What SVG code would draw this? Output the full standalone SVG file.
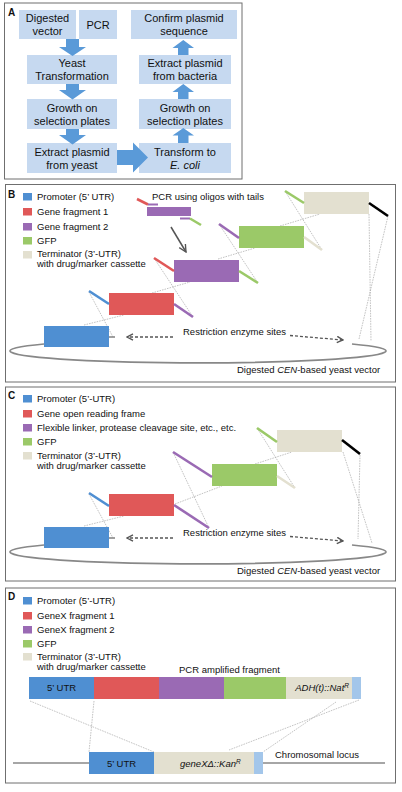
<svg xmlns="http://www.w3.org/2000/svg" width="402" height="792" viewBox="0 0 402 792">
<defs>
<style>
.t{font-family:"Liberation Sans",Arial,sans-serif;fill:#111}
.a{font-size:11px;text-anchor:middle}
.l{font-size:9.5px}
.lab{font-size:10px;font-weight:bold}
.panel{fill:#fff;stroke:#6f6f6f;stroke-width:1}
.box{fill:#c6d9f0}
.arr{fill:#5a9ad8}
.blue{fill:#4f8fd2}.red{fill:#e05858}.pur{fill:#9a6ab4}.grn{fill:#9bc968}.bei{fill:#e3e0d0}.lb{fill:#a3c6ea}
.tail{stroke-width:2.6;fill:none}
.thin{stroke:#9a9a9a;stroke-width:0.6;stroke-dasharray:1.6 1;fill:none}
.vec{stroke:#888;stroke-width:1.6;fill:none}
.dash{stroke:#555;stroke-width:1.3;stroke-dasharray:3 2;fill:none}
</style>
<marker id="chev" viewBox="0 0 8 8" refX="7" refY="4" markerWidth="8" markerHeight="8" markerUnits="userSpaceOnUse" orient="auto">
<path d="M1,0.8 L7,4 L1,7.2" fill="none" stroke="#555" stroke-width="1.4"/>
</marker>
<marker id="chev2" viewBox="0 0 10 10" refX="9" refY="5" markerWidth="9" markerHeight="9" markerUnits="userSpaceOnUse" orient="auto">
<path d="M1,1 L9,5 L1,9" fill="none" stroke="#555" stroke-width="1.5"/>
</marker>
</defs>

<!-- Panel A -->
<g id="panelA">
<rect class="panel" x="4.5" y="3" width="237.5" height="176"/>
<text class="t lab" x="8" y="16">A</text>
<g id="a-digested"><rect class="box" x="19" y="10" width="57" height="29"/><text class="t a" x="47.5" y="22">Digested</text><text class="t a" x="47.5" y="35">vector</text></g>
<g id="a-pcr"><rect class="box" x="79" y="10" width="38" height="29"/><text class="t a" x="98" y="29">PCR</text></g>
<g id="a-yeast"><rect class="box" x="27" y="55" width="90" height="29"/><text class="t a" x="72" y="67">Yeast</text><text class="t a" x="72" y="80">Transformation</text></g>
<g id="a-growth1"><rect class="box" x="27" y="99" width="90" height="30"/><text class="t a" x="72" y="111.5">Growth on</text><text class="t a" x="72" y="124.5">selection plates</text></g>
<g id="a-extract1"><rect class="box" x="27" y="143" width="90" height="30"/><text class="t a" x="72" y="155.5">Extract plasmid</text><text class="t a" x="72" y="168.5">from yeast</text></g>
<g id="a-confirm"><rect class="box" x="131" y="10" width="106" height="29"/><text class="t a" x="184" y="22">Confirm plasmid</text><text class="t a" x="184" y="35">sequence</text></g>
<g id="a-extract2"><rect class="box" x="139" y="55" width="92" height="29"/><text class="t a" x="185" y="67">Extract plasmid</text><text class="t a" x="185" y="80">from bacteria</text></g>
<g id="a-growth2"><rect class="box" x="139" y="99" width="92" height="30"/><text class="t a" x="185" y="111.5">Growth on</text><text class="t a" x="185" y="124.5">selection plates</text></g>
<g id="a-transform"><rect class="box" x="139" y="143" width="92" height="30"/><text class="t a" x="185" y="155.5">Transform to</text><text class="t a" x="185" y="168.5" font-style="italic">E. coli</text></g>
<g id="a-arrows">
<path class="arr" d="M66,39 H79 V47 H86 L72.5,56 L59,47 H66 Z"/>
<path class="arr" d="M66,84 H79 V90 H86 L72.5,99.5 L59,90 H66 Z"/>
<path class="arr" d="M66,129 H79 V135 H86 L72.5,144.5 L59,135 H66 Z"/>
<path class="arr" d="M117,150 H133 V142.5 L148,157.5 L133,172.5 V165 H117 Z"/>
<path class="arr" d="M178,143 H188.5 V135.5 H194 L183.3,128 L172.5,135.5 H178 Z"/>
<path class="arr" d="M178,99 H188.5 V92 H194 L183.3,84 L172.5,92 H178 Z"/>
<path class="arr" d="M178,55 H188.5 V48 H194 L183.3,40 L172.5,48 H178 Z"/>
</g>
</g>

<!-- Panel B -->
<g id="panelB">
<rect class="panel" x="5.5" y="184.5" width="390" height="197.5"/>
<text class="t lab" x="8" y="198">B</text>
<g id="b-legend">
<rect class="blue" x="23" y="193" width="9" height="7.5"/><text class="t l" x="37" y="200">Promoter (5’ UTR)</text>
<rect class="red" x="23" y="208" width="9" height="7.5"/><text class="t l" x="37" y="215">Gene fragment 1</text>
<rect class="pur" x="23" y="223" width="9" height="7.5"/><text class="t l" x="37" y="230">Gene fragment 2</text>
<rect class="grn" x="23" y="237" width="9" height="7.5"/><text class="t l" x="37" y="244">GFP</text>
<rect class="bei" x="23" y="251" width="9" height="7.5"/><text class="t l" x="37" y="257">Terminator (3’-UTR)</text>
<text class="t l" x="37" y="267">with drug/marker cassette</text>
</g>
<g id="b-connectors">
<line class="thin" x1="89" y1="292" x2="113" y2="337"/>
<line class="thin" x1="84" y1="325" x2="124" y2="315"/>
<line class="thin" x1="154" y1="258" x2="193" y2="317"/>
<line class="thin" x1="152" y1="293" x2="190" y2="282"/>
<line class="thin" x1="219" y1="224" x2="258" y2="283"/>
<line class="thin" x1="218" y1="259" x2="255" y2="248"/>
<line class="thin" x1="285" y1="191" x2="322" y2="250"/>
<line class="thin" x1="280" y1="226" x2="320" y2="214"/>
<line class="thin" x1="369" y1="214" x2="371" y2="341"/>
<line class="thin" x1="388" y1="216" x2="359" y2="339"/>
<path class="vec" d="M44,344 A188,12 0 1 0 352,344"/>
<line x1="171" y1="227" x2="186" y2="252" stroke="#555" stroke-width="1.5" marker-end="url(#chev2)"/>
<line class="dash" x1="173" y1="337" x2="127" y2="337" marker-end="url(#chev)"/>
<line class="dash" x1="290" y1="335.5" x2="343" y2="340" marker-end="url(#chev)"/>
</g>
<g id="b-pcr">
<text class="t l" x="152" y="200">PCR using oligos with tails</text>
<rect class="pur" x="147" y="207" width="44" height="9"/>
<line class="tail" stroke="#e05858" stroke-width="2.2" x1="137" y1="199" x2="148" y2="204.5"/>
<line stroke="#9a6ab4" stroke-width="2" x1="148" y1="204.5" x2="158" y2="204.5"/>
<line stroke="#9a6ab4" stroke-width="2" x1="180" y1="218.5" x2="190" y2="218.5"/>
<line class="tail" stroke="#9bc968" stroke-width="2.2" x1="190" y1="218.5" x2="201" y2="225"/>
</g>
<g id="b-promoter"><rect class="blue" x="44" y="326" width="65" height="21"/><line stroke="#888" stroke-width="1.6" x1="109" y1="337" x2="115" y2="337"/></g>
<g id="b-frag1"><rect class="red" x="109" y="293" width="65" height="22"/><line class="tail" stroke="#4f8fd2" x1="89" y1="291" x2="109" y2="304"/><line class="tail" stroke="#9a6ab4" x1="174" y1="304" x2="193" y2="317"/></g>
<g id="b-frag2"><rect class="pur" x="174" y="260" width="65" height="22"/><line class="tail" stroke="#e05858" x1="154" y1="258" x2="174" y2="271"/><line class="tail" stroke="#9bc968" x1="239" y1="271" x2="258" y2="283"/></g>
<g id="b-gfp"><rect class="grn" x="239" y="226" width="65" height="22"/><line class="tail" stroke="#9a6ab4" x1="219" y1="224" x2="239" y2="238"/><line class="tail" stroke="#e3e0d0" x1="304" y1="237" x2="322" y2="250"/></g>
<g id="b-term"><rect class="bei" x="304" y="192" width="65" height="22"/><line class="tail" stroke="#9bc968" x1="285" y1="191" x2="304" y2="203"/><line class="tail" stroke="#000" x1="369" y1="203" x2="388" y2="216"/></g>
<text class="t l" x="183" y="335">Restriction enzyme sites</text>
<text class="t l" x="237" y="373">Digested <tspan font-style="italic">CEN</tspan>-based yeast vector</text>
</g>

<!-- Panel C -->
<g id="panelC">
<rect class="panel" x="5.5" y="387" width="390" height="194"/>
<text class="t lab" x="8" y="399">C</text>
<g id="c-legend">
<rect class="blue" x="23" y="395" width="9" height="7.5"/><text class="t l" x="37" y="402">Promoter (5’-UTR)</text>
<rect class="red" x="23" y="410" width="9" height="7.5"/><text class="t l" x="37" y="417">Gene open reading frame</text>
<rect class="pur" x="23" y="424" width="9" height="7.5"/><text class="t l" x="37" y="431">Flexible linker, protease cleavage site, etc., etc.</text>
<rect class="grn" x="23" y="438" width="9" height="7.5"/><text class="t l" x="37" y="445">GFP</text>
<rect class="bei" x="23" y="452" width="9" height="7.5"/><text class="t l" x="37" y="459">Terminator (3’-UTR)</text>
<text class="t l" x="37" y="469">with drug/marker cassette</text>
</g>
<g id="c-connectors">
<line class="thin" x1="89" y1="494" x2="113" y2="538"/>
<line class="thin" x1="84" y1="526" x2="124" y2="516"/>
<line class="thin" x1="173" y1="452" x2="209" y2="528"/>
<line class="thin" x1="175" y1="504" x2="222" y2="486"/>
<line class="thin" x1="257" y1="428" x2="295" y2="488"/>
<line class="thin" x1="255" y1="464" x2="292" y2="452"/>
<line class="thin" x1="343" y1="452" x2="372" y2="543"/>
<line class="thin" x1="360" y1="455" x2="358" y2="539"/>
<path class="vec" d="M44,545 A188,12 0 1 0 352,545"/>
<line class="dash" x1="173" y1="538" x2="127" y2="538" marker-end="url(#chev)"/>
<line class="dash" x1="290" y1="536.5" x2="343" y2="541" marker-end="url(#chev)"/>
</g>
<g id="c-promoter"><rect class="blue" x="44" y="527" width="65" height="21"/><line stroke="#888" stroke-width="1.6" x1="109" y1="538" x2="115" y2="538"/></g>
<g id="c-orf"><rect class="red" x="109" y="494" width="65" height="22"/><line class="tail" stroke="#4f8fd2" x1="89" y1="493" x2="109" y2="506"/><line class="tail" stroke="#9a6ab4" x1="174" y1="505" x2="209" y2="528"/></g>
<g id="c-gfp"><rect class="grn" x="212" y="464" width="65" height="22"/><line class="tail" stroke="#9a6ab4" x1="173" y1="452" x2="212" y2="477"/><line class="tail" stroke="#e3e0d0" x1="277" y1="476" x2="295" y2="488"/></g>
<g id="c-term"><rect class="bei" x="277" y="430" width="65" height="22"/><line class="tail" stroke="#9bc968" x1="257" y1="428" x2="277" y2="442"/><line class="tail" stroke="#000" x1="342" y1="440" x2="360" y2="454"/></g>
<text class="t l" x="183" y="536">Restriction enzyme sites</text>
<text class="t l" x="237" y="574">Digested <tspan font-style="italic">CEN</tspan>-based yeast vector</text>
</g>

<!-- Panel D -->
<g id="panelD">
<rect class="panel" x="5.5" y="588" width="390" height="195"/>
<text class="t lab" x="8" y="600">D</text>
<g id="d-legend">
<rect class="blue" x="23" y="597" width="9" height="7.5"/><text class="t l" x="37" y="604">Promoter (5’-UTR)</text>
<rect class="red" x="23" y="612" width="9" height="7.5"/><text class="t l" x="37" y="619">GeneX fragment 1</text>
<rect class="pur" x="23" y="626" width="9" height="7.5"/><text class="t l" x="37" y="633">GeneX fragment 2</text>
<rect class="grn" x="23" y="640" width="9" height="7.5"/><text class="t l" x="37" y="647">GFP</text>
<rect class="bei" x="23" y="653" width="9" height="7.5"/><text class="t l" x="37" y="660">Terminator (3’-UTR)</text>
<text class="t l" x="37" y="670">with drug/marker cassette</text>
</g>
<g id="d-connectors">
<line class="thin" x1="30" y1="701" x2="154" y2="752"/>
<line class="thin" x1="94" y1="701" x2="89" y2="752"/>
<line class="thin" x1="359" y1="700" x2="229" y2="750"/>
<line class="thin" x1="336" y1="702" x2="263" y2="752"/>
<line class="vec" x1="13" y1="763" x2="89" y2="763"/>
<line class="vec" x1="263" y1="763" x2="385" y2="763"/>
</g>
<g id="d-fragment">
<text class="t l" x="179" y="673">PCR amplified fragment</text>
<rect class="blue" x="29" y="677" width="65" height="22"/>
<rect class="red" x="94" y="677" width="65" height="22"/>
<rect class="pur" x="159" y="677" width="65" height="22"/>
<rect class="grn" x="224" y="677" width="62" height="22"/>
<rect class="bei" x="286" y="677" width="66" height="22"/>
<rect class="lb" x="352" y="677" width="9" height="22"/>
<text class="t l" x="61.5" y="691" text-anchor="middle">5’ UTR</text>
<text class="t l" x="349" y="691" text-anchor="end" font-style="italic">ADH(t)::Nat<tspan font-size="6.5" dy="-3.5">R</tspan></text>
</g>
<g id="d-locus">
<rect class="blue" x="89" y="752" width="65" height="22"/>
<rect class="bei" x="154" y="752" width="100" height="22"/>
<rect class="lb" x="254" y="752" width="9" height="22"/>
<text class="t l" x="121.5" y="767" text-anchor="middle">5’ UTR</text>
<text class="t l" x="180" y="767" font-style="italic">geneXΔ::Kan<tspan font-size="6.5" dy="-3.5">R</tspan></text>
<text class="t l" x="275" y="758">Chromosomal locus</text>
</g>
</g>
</svg>
